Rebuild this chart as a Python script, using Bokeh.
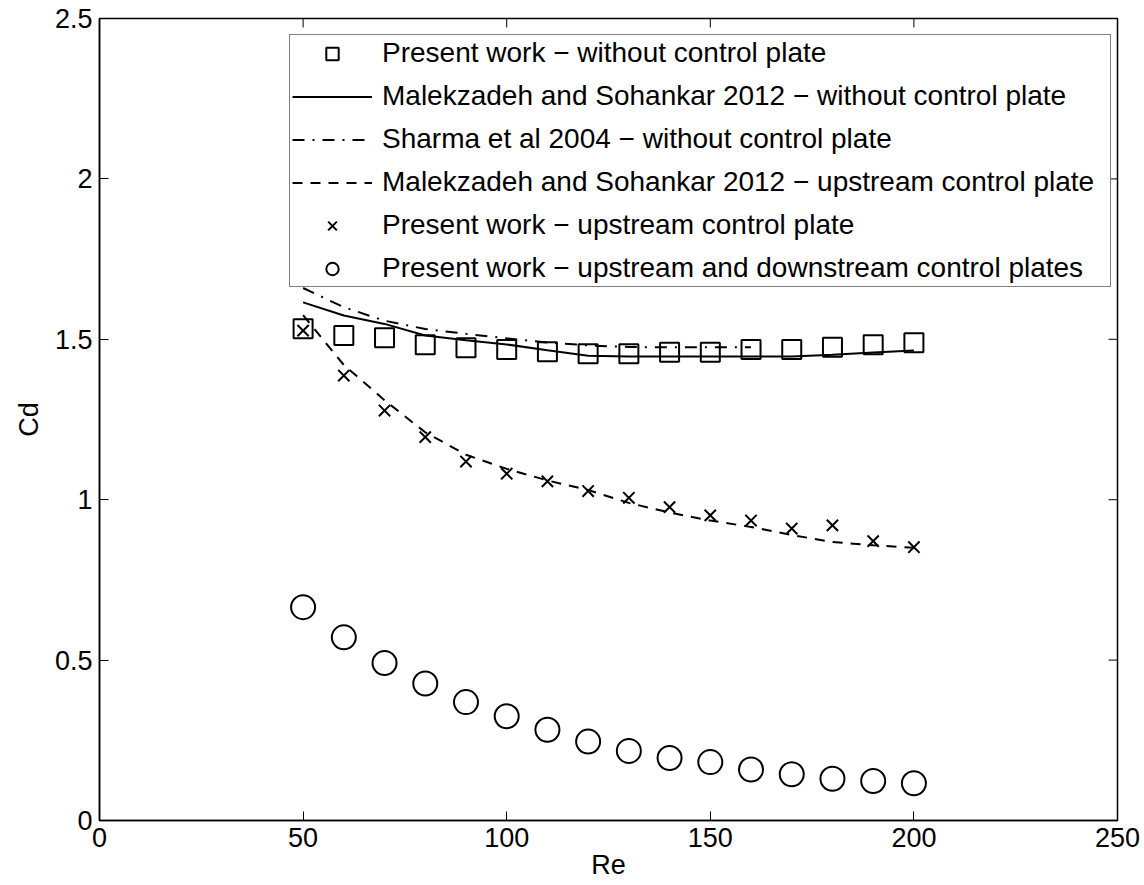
from bokeh.plotting import figure
from bokeh.models import Legend, LegendItem, FixedTicker, Range1d, PrintfTickFormatter
from bokeh.embed import file_html
from bokeh.resources import INLINE

# ---------------- data ----------------
re_vals = [50, 60, 70, 80, 90, 100, 110, 120, 130, 140, 150, 160, 170, 180, 190, 200]
present_without = [1.533, 1.512, 1.505, 1.483, 1.474, 1.468, 1.461, 1.455,
                   1.455, 1.460, 1.460, 1.468, 1.468, 1.475, 1.483, 1.489]
malek_without = [1.615, 1.574, 1.548, 1.512, 1.497, 1.484, 1.466, 1.449,
                 1.446, 1.446, 1.446, 1.446, 1.446, 1.452, 1.459, 1.465]
re_sharma = [50, 60, 70, 80, 90, 100, 110, 120, 130, 140, 150, 160]
sharma_without = [1.660, 1.600, 1.558, 1.532, 1.517, 1.503, 1.490, 1.481,
                  1.476, 1.475, 1.475, 1.475]
malek_upstream = [1.575, 1.420, 1.310, 1.210, 1.140, 1.096, 1.060, 1.030,
                  0.990, 0.960, 0.935, 0.915, 0.890, 0.868, 0.858, 0.850]
present_upstream = [1.527, 1.387, 1.278, 1.195, 1.119, 1.081, 1.057, 1.027,
                    1.006, 0.977, 0.951, 0.935, 0.910, 0.920, 0.871, 0.852]
present_updown = [0.665, 0.571, 0.491, 0.427, 0.369, 0.325, 0.283, 0.246,
                  0.217, 0.195, 0.182, 0.159, 0.144, 0.130, 0.123, 0.116]

x_ticks = [0, 50, 100, 150, 200, 250]
y_ticks = [0, 0.5, 1, 1.5, 2, 2.5]

legend_labels = [
    "Present work \u2212 without control plate",
    "Malekzadeh and Sohankar 2012 \u2212 without control plate",
    "Sharma et al 2004 \u2212 without control plate",
    "Malekzadeh and Sohankar 2012 \u2212 upstream control plate",
    "Present work \u2212 upstream control plate",
    "Present work \u2212 upstream and downstream control plates",
]

FONT = "Liberation Sans"
FS = "27px"
LEG_FS = "28px"

X_MIN, X_MAX = 0, 250
Y_MIN, Y_MAX = 0, 2.5
W, H = 1144, 885
BL, BR, BT, BB = 99, 27, 18, 65
FRAME_W = W - BL - BR
FRAME_H = H - BT - BB
TICK_PX = 9

# ---------------- figure ----------------
p = figure(width=W, height=H, output_backend="svg", toolbar_location=None,
           x_range=Range1d(X_MIN, X_MAX), y_range=Range1d(Y_MIN, Y_MAX),
           min_border_left=BL, min_border_right=BR, min_border_top=BT, min_border_bottom=BB)
p.xgrid.visible = False
p.ygrid.visible = False
p.background_fill_color = "white"
p.border_fill_color = "white"
p.outline_line_color = "black"
p.outline_line_width = 1.5

def style_axis(ax, ticks):
    ax.ticker = FixedTicker(ticks=ticks)
    ax.major_tick_in = TICK_PX
    ax.major_tick_out = 0
    ax.minor_tick_line_color = None
    ax.major_tick_line_color = "black"
    ax.major_tick_line_width = 1
    ax.axis_line_color = "black"
    ax.axis_line_width = 1.5
    ax.major_label_text_font = FONT
    ax.major_label_text_font_size = FS
    ax.major_label_text_color = "black"
    ax.major_label_standoff = 7
    ax.axis_label_text_font = FONT
    ax.axis_label_text_font_size = FS
    ax.axis_label_text_font_style = "normal"
    ax.axis_label_text_color = "black"

xa = p.xaxis[0]
style_axis(xa, x_ticks)
xa.axis_label = "Re"
xa.axis_label_standoff = 0

ya = p.yaxis[0]
style_axis(ya, y_ticks)
ya.formatter = PrintfTickFormatter(format="%g")
ya.axis_label = "Cd"
ya.axis_label_standoff = 8

# tick marks on the top and right frame edges (box on)
dx = TICK_PX * (X_MAX - X_MIN) / FRAME_W
dy = TICK_PX * (Y_MAX - Y_MIN) / FRAME_H
inner_x = x_ticks[1:-1]
inner_y = y_ticks[1:-1]
p.segment(x0=inner_x, y0=[Y_MAX] * len(inner_x), x1=inner_x, y1=[Y_MAX - dy] * len(inner_x),
          line_color="black", line_width=1)
p.segment(x0=[X_MAX] * len(inner_y), y0=inner_y, x1=[X_MAX - dx] * len(inner_y), y1=inner_y,
          line_color="black", line_width=1)

# ---------------- glyphs ----------------
r_sq = p.scatter(re_vals, present_without, marker="square", size=19,
                 fill_color=None, line_color="black", line_width=2)
r_solid = p.line(re_vals, malek_without, line_color="black", line_width=2)
r_dd = p.line(re_sharma, sharma_without, line_color="black", line_width=2,
              line_dash="12 8 2 8")
r_dash = p.line(re_vals, malek_upstream, line_color="black", line_width=2,
                line_dash="10 8")
r_x = p.scatter(re_vals, present_upstream, marker="x", size=16,
                line_color="black", line_width=2)
r_ci = p.scatter(re_vals, present_updown, marker="circle", size=24,
                 fill_color=None, line_color="black", line_width=2)

renderers = [r_sq, r_solid, r_dd, r_dash, r_x, r_ci]
items = [LegendItem(label=lab, renderers=[r]) for lab, r in zip(legend_labels, renderers)]
legend = Legend(items=items, location=(190, 533),
                label_text_font=FONT, label_text_font_size=LEG_FS, label_text_color="black",
                glyph_width=80, glyph_height=31, label_height=31, label_standoff=10,
                label_width=726, padding=2, spacing=11, margin=0,
                border_line_color="black", border_line_width=1.5,
                background_fill_color="white", background_fill_alpha=1.0)
p.add_layout(legend)

open("out.html", "w").write(file_html(p, INLINE))
